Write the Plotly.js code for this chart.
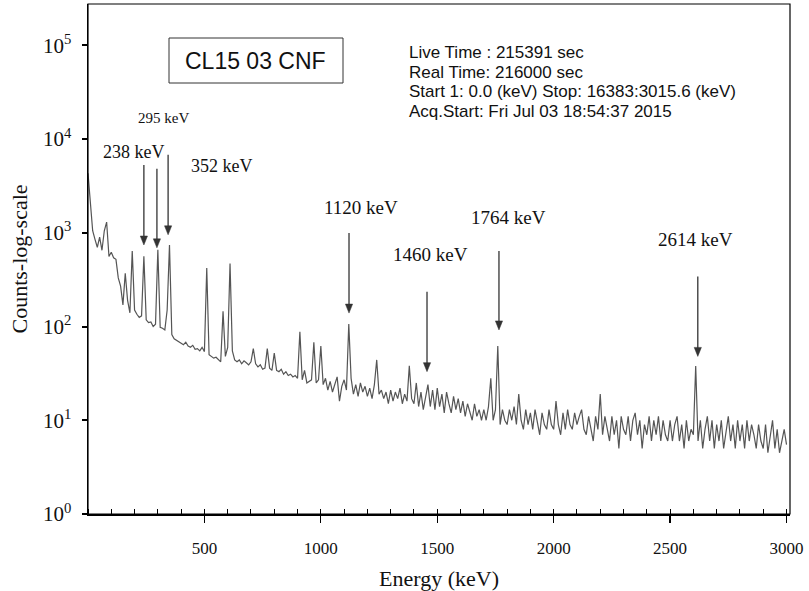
<!DOCTYPE html>
<html>
<head>
<meta charset="utf-8">
<script src="https://cdn.plot.ly/plotly-3.0.1.min.js"></script>
<style>
  html, body { margin: 0; padding: 0; background: #fff; }
  #chart { width: 809px; height: 591px; }
</style>
</head>
<body>
<div id="chart"></div>
<script>
// Spectrum counts, one value every 10 keV from 0 keV to 3000 keV
const counts = [
  4300, 1900, 1050, 850, 700, 900, 650, 1050, 1300, 560,
  620, 540, 520, 330, 270, 170, 370, 190, 140, 640,
  150, 135, 125, 130, 560, 118, 110, 112, 100, 106,
  660, 98, 96, 92, 150, 740, 82, 74, 71, 68,
  66, 64, 68, 62, 60, 63, 57, 58, 55, 60,
  54, 420, 50, 48, 46, 47, 44, 42, 145, 48,
  60, 470, 55, 44, 42, 44, 40, 43, 41, 39,
  42, 58, 40, 37, 39, 35, 36, 58, 36, 34,
  52, 34, 33, 35, 31, 33, 30, 31, 29, 30,
  28, 88, 27, 34, 25, 26, 27, 68, 25, 27,
  62, 24, 28, 21, 26, 20, 25, 29, 16, 23,
  27, 21, 106, 28, 19, 24, 18, 25, 20, 23,
  18, 22, 17, 24, 44, 19, 21, 17, 20, 15,
  21, 16, 20, 17, 22, 15, 19, 16, 38, 17,
  15, 25, 14, 20, 13, 18, 24, 14, 21, 13,
  22, 14, 19, 12, 20, 15, 12, 18, 13, 17,
  12, 16, 11, 15, 12, 10, 15, 11, 13, 10,
  13, 10, 14, 28, 10, 13, 62, 9, 13, 10,
  9, 13, 10, 14, 9, 19, 10, 8, 13, 9,
  12, 8, 13, 9, 7, 12, 9, 8, 13, 9,
  8, 16, 9, 7, 12, 8, 13, 9, 8, 12,
  9, 11, 13, 8, 7, 11, 8, 6, 11, 8,
  19, 7, 11, 8, 6, 11, 7, 10, 5, 11,
  8, 7, 11, 6, 10, 12, 7, 10, 5, 9,
  7, 11, 6, 10, 7, 11, 6, 10, 7, 6,
  10, 6, 9, 11, 6, 9, 5, 10, 6, 8,
  7, 38, 6, 10, 5, 8, 11, 6, 10, 5,
  9, 6, 10, 5, 8, 11, 6, 9, 5, 10,
  6, 9, 5, 10, 6, 9, 7, 5, 9, 6,
  5, 9, 4.5, 7, 10, 5, 8, 4.5, 6, 8,
  5.5
];
const energyStepKeV = 10;
const energies = counts.map((c, i) => i * energyStepKeV);

// Axis ticks
const xTickVals = [500, 1000, 1500, 2000, 2500, 3000];
const xTickText = ['500', '1000', '1500', '2000', '2500', '3000'];
const yTickVals = [1, 10, 100, 1000, 10000, 100000];
const yTickText = ['10<sup>0</sup>', '10<sup>1</sup>', '10<sup>2</sup>', '10<sup>3</sup>', '10<sup>4</sup>', '10<sup>5</sup>'];

// Marked peaks
const peakLabels = ['238 keV', '295 keV', '352 keV', '1120 keV', '1460 keV', '1764 keV', '2614 keV'];
const peakArrowE = [240, 296, 344, 1121, 1456, 1765, 2619];      // arrow x (keV)
const peakArrowTip = [740, 690, 950, 139, 33, 92, 48];           // counts at arrow tip

const sampleName = 'CL15 03 CNF';
const infoLines = [
  'Live Time : 215391 sec',
  'Real Time: 216000 sec',
  'Start 1: 0.0 (keV) Stop: 16383:3015.6 (keV)',
  'Acq.Start: Fri Jul 03 18:54:37 2015'
];

// ---- layout helpers (pixel -> paper) ----
const L = 88, R = 790, T = 4, B = 514;
const H = B - T;
const Y_MAX_LOG = 5.44;
const px = x => (x - L) / (R - L);
const py = y => (B - y) / H;

const serif = 'Liberation Serif, Times New Roman, serif';
const sans = 'Liberation Sans, Arial, sans-serif';

// label positions (pixels of the centre)
const labelPos = [[134, 152], [163, 118], [222, 166], [361, 207], [430, 254], [508, 218], [695, 239]];
const labelSize = [18, 15, 18, 19, 19, 19, 19];
const arrowLen = [80, 79, 80, 80, 80, 79, 80];
const infoY = [52.7, 72.7, 91.9, 111.2];

const annotations = [];
const shapes = [
  { type: 'rect', xref: 'paper', yref: 'paper', x0: 0, x1: 1, y0: 0, y1: 1,
    line: { color: '#000', width: 1.2 } },
  { type: 'rect', xref: 'paper', yref: 'paper', x0: px(169), x1: px(343), y0: py(83), y1: py(38),
    line: { color: '#333', width: 1 } }
];

const headH = 9 / H, headHalfW = 3.6 * 3015 / (R - L);
peakLabels.forEach((t, i) => {
  annotations.push({
    xref: 'paper', yref: 'paper', x: px(labelPos[i][0]), y: py(labelPos[i][1]),
    text: t, showarrow: false, xanchor: 'center', yanchor: 'middle',
    font: { family: serif, size: labelSize[i], color: '#111' }
  });
  const e = peakArrowE[i];
  const tip = Math.log10(peakArrowTip[i]) / Y_MAX_LOG;
  const tail = tip + arrowLen[i] / H;
  shapes.push({ type: 'line', xref: 'x', yref: 'paper', x0: e, x1: e, y0: tail, y1: tip + headH * 0.6,
    line: { color: '#333', width: 1.3 } });
  shapes.push({ type: 'path', xref: 'x', yref: 'paper',
    path: `M ${e - headHalfW},${tip + headH} L ${e + headHalfW},${tip + headH} L ${e},${tip} Z`,
    fillcolor: '#333', line: { color: '#333', width: 0.5 } });
});
annotations.push({
  xref: 'paper', yref: 'paper', x: px(255), y: py(61),
  text: sampleName, showarrow: false, xanchor: 'center', yanchor: 'middle',
  font: { family: sans, size: 23, color: '#111' }
});
infoLines.forEach((t, i) => {
  annotations.push({
    xref: 'paper', yref: 'paper', x: px(407), y: py(infoY[i]),
    text: t, showarrow: false, xanchor: 'left', yanchor: 'middle', align: 'left',
    font: { family: sans, size: 17, color: '#111' }
  });
});

const trace = {
  x: energies, y: counts, type: 'scatter', mode: 'lines',
  line: { color: '#555', width: 1.2 }, hoverinfo: 'skip'
};

const layout = {
  width: 809, height: 591,
  margin: { l: L, r: 809 - R, t: T, b: 591 - B },
  paper_bgcolor: '#fff', plot_bgcolor: '#fff',
  showlegend: false,
  xaxis: {
    range: [0, 3015], showgrid: false, zeroline: false,
    showline: true, linecolor: '#000', linewidth: 2,
    tickmode: 'array', tickvals: xTickVals, ticktext: xTickText,
    ticks: 'outside', ticklen: 7, tickwidth: 1.3, tickcolor: '#000',
    ticklabelstandoff: 11,
    minor: { dtick: 100, ticks: 'inside', ticklen: 5, tickwidth: 1, tickcolor: '#000' },
    tickfont: { family: serif, size: 17, color: '#111' },
    title: { text: 'Energy (keV)', font: { family: serif, size: 22, color: '#111' }, standoff: 16 }
  },
  yaxis: {
    type: 'log', range: [0, Y_MAX_LOG], showgrid: false, zeroline: false,
    showline: true, linecolor: '#000', linewidth: 1.5,
    tickmode: 'array', tickvals: yTickVals, ticktext: yTickText,
    ticks: 'outside', ticklen: 5, tickwidth: 2, tickcolor: '#000',
    ticklabelstandoff: 6,
    tickfont: { family: serif, size: 21, color: '#111' },
    title: { text: 'Counts-log-scale', font: { family: serif, size: 22, color: '#111' }, standoff: 9 }
  },
  shapes: shapes,
  annotations: annotations
};

Plotly.newPlot('chart', [trace], layout, { displayModeBar: false, staticPlot: true });
</script>
</body>
</html>
